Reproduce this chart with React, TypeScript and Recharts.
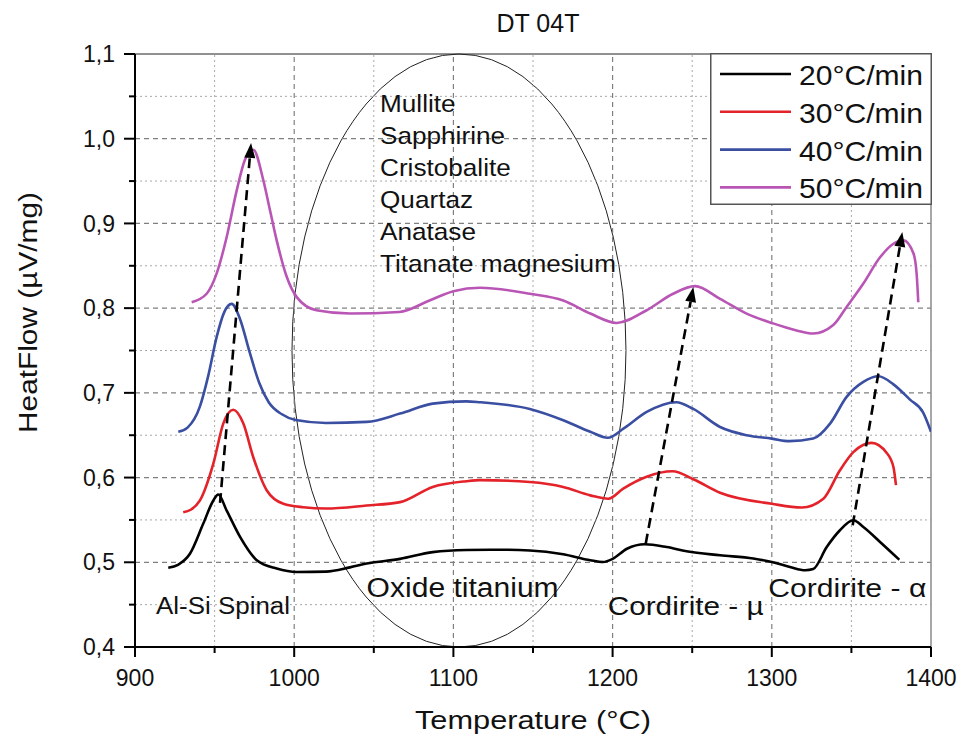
import React from 'react';
import {
  LineChart,
  Line,
  XAxis,
  YAxis,
  ReferenceLine,
  ReferenceArea,
  ReferenceDot,
  Label,
} from 'recharts';

const FONT = '"Liberation Sans", Arial, Helvetica, sans-serif';

// ---- series: temperature (°C) and heat flow (µV/mg) ----
const t20 = [920.9, 927, 934.5, 942.9, 949.2, 952.3, 957.6, 966, 976.5, 989, 1001.6, 1020, 1035, 1045.5, 1066.5, 1087, 1108, 1130, 1148, 1169, 1186, 1194, 1200, 1209, 1220.3, 1234, 1246.5, 1267.5, 1288.4, 1300, 1311.4, 1321, 1326, 1334.5, 1342.8, 1351.2, 1357.5, 1368, 1380.1];
const hf20 = [0.4935, 0.497, 0.51, 0.5457, 0.573, 0.58, 0.561, 0.53, 0.5024, 0.4926, 0.4886, 0.489, 0.494, 0.4985, 0.504, 0.512, 0.5145, 0.5148, 0.514, 0.5095, 0.5024, 0.5003, 0.504, 0.516, 0.5213, 0.518, 0.513, 0.5083, 0.5044, 0.5003, 0.4945, 0.4906, 0.492, 0.518, 0.5378, 0.5496, 0.5417, 0.524, 0.503];

const t30 = [930.3, 935, 940.8, 949.2, 955.5, 961.7, 968, 974.3, 982.7, 993.2, 1005.7, 1020, 1045.5, 1066.5, 1087, 1108, 1116.7, 1148, 1169, 1186, 1197.3, 1206.7, 1221.4, 1237.7, 1250.7, 1267.5, 1300, 1318.8, 1332.4, 1342.8, 1351.2, 1362.7, 1372.2, 1376.4, 1378];
const hf30 = [0.559, 0.562, 0.573, 0.6165, 0.664, 0.68, 0.664, 0.624, 0.585, 0.569, 0.565, 0.5635, 0.567, 0.571, 0.589, 0.5957, 0.597, 0.5948, 0.589, 0.579, 0.575, 0.587, 0.601, 0.6074, 0.598, 0.582, 0.569, 0.5646, 0.575, 0.6086, 0.63, 0.641, 0.629, 0.6125, 0.591];

const t40 = [927.2, 933, 940.8, 946, 951.3, 956, 960.7, 966, 972, 978, 984, 992, 1001, 1020, 1045.5, 1066.5, 1087, 1108, 1116.7, 1148, 1169, 1186, 1197, 1207, 1221.4, 1240, 1250.7, 1267.5, 1284.2, 1300, 1311, 1326, 1336.6, 1347, 1357.5, 1367, 1376.4, 1386.8, 1395, 1400];
const hf40 = [0.654, 0.659, 0.684, 0.72, 0.766, 0.795, 0.805, 0.787, 0.748, 0.712, 0.689, 0.675, 0.668, 0.6645, 0.6657, 0.6755, 0.6873, 0.69, 0.689, 0.681, 0.6677, 0.654, 0.647, 0.658, 0.6775, 0.689, 0.681, 0.6597, 0.65, 0.646, 0.643, 0.646, 0.6637, 0.6952, 0.7129, 0.7196, 0.71, 0.692, 0.677, 0.654];

const t50 = [935.6, 945, 951.3, 957.6, 963.9, 969, 974.3, 980.6, 984.8, 989, 995.3, 1001.6, 1014, 1035, 1066, 1085, 1100, 1116.7, 1148, 1169, 1186, 1202.6, 1221.4, 1238, 1251.8, 1267.5, 1284.2, 1300.8, 1315, 1326, 1338.6, 1347, 1357.5, 1368, 1376.4, 1382.7, 1389, 1391, 1392];
const hf50 = [0.807, 0.817, 0.841, 0.884, 0.939, 0.975, 0.987, 0.951, 0.9156, 0.88, 0.837, 0.813, 0.7975, 0.7936, 0.7955, 0.809, 0.82, 0.824, 0.817, 0.809, 0.7936, 0.7825, 0.7975, 0.817, 0.826, 0.811, 0.7936, 0.782, 0.774, 0.77, 0.78, 0.8014, 0.829, 0.86, 0.876, 0.88, 0.8645, 0.84, 0.807];

const seriesNames = ['20°C/min', '30°C/min', '40°C/min', '50°C/min'];
const seriesColors = ['#000000', '#e3222a', '#3a4ea2', '#b955b5'];

// ---- axes ----
const xDomain = [900, 1400];
const yDomain = [0.4, 1.1];
const xTicks = [900, 950, 1000, 1050, 1100, 1150, 1200, 1250, 1300, 1350, 1400];
const xMinorGrid = [950, 1050, 1150, 1250, 1350];
const xMajorGrid = [1000, 1100, 1200, 1300];
const yTicks = [0.4, 0.45, 0.5, 0.55, 0.6, 0.65, 0.7, 0.75, 0.8, 0.85, 0.9, 0.95, 1.0, 1.05, 1.1];
const yMinorGrid = [0.45, 0.55, 0.65, 0.75, 0.85, 0.95, 1.05];
const yMajorGrid = [0.5, 0.6, 0.7, 0.8, 0.9, 1.0];

// ---- annotations (data coordinates) ----
const phaseList = ['Mullite', 'Sapphirine', 'Cristobalite', 'Quartaz', 'Anatase', 'Titanate magnesium'];
const phaseListAt = { t: 1053.9, v: 1.0317 };
const notes = [
  { text: 'Al-Si Spinal', t: 913.2, v: 0.4386 },
  { text: 'Oxide titanium', t: 1045.5, v: 0.4587 },
  { text: 'Cordirite - µ', t: 1196.9, v: 0.4374 },
  { text: 'Cordirite - α', t: 1297.8, v: 0.4587 },
];
const noteStyle = [
  { size: 23, len: 134 },
  { size: 27, len: 192 },
  { size: 26, len: 156 },
  { size: 26, len: 158 },
];
const arrowStartT = [953.4, 1220.8, 1350.8];
const arrowStartV = [0.57, 0.522, 0.5437];
const arrowEndT = [972.9, 1250.7, 1382];
const arrowEndV = [0.995, 0.825, 0.89];
const ellipseT = [998.6, 1208.4];
const ellipseV = [0.4, 1.1];

const toPoints = (ts: number[], vs: number[]) => ts.map((t, i) => ({ t, v: vs[i] }));
const seriesData = [toPoints(t20, hf20), toPoints(t30, hf30), toPoints(t40, hf40), toPoints(t50, hf50)];

const TICK = 10;
const X_MARGIN = 13;
const Y_MARGIN = 10;

const XTick = (props: any) => {
  const { x, y, payload } = props;
  const v = payload.value as number;
  const major = Math.round(v) % 100 === 0;
  const axisY = y - TICK - X_MARGIN;
  return (
    <g>
      <path d={`M${x},${axisY}L${x},${axisY + (major ? 10 : 6)}`} stroke="#000" strokeWidth={2} fill="none" />
      {major && (
        <text x={x} y={y} dy="0.71em" textAnchor="middle" fontSize={23} fontFamily={FONT} fill="#111">
          {v}
        </text>
      )}
    </g>
  );
};

const YTick = (props: any) => {
  const { x, y, payload } = props;
  const v = payload.value as number;
  const major = Math.round(v * 100) % 10 === 0;
  const axisX = x + TICK + Y_MARGIN;
  return (
    <g>
      <path d={`M${axisX - (major ? 11 : 6)},${y}L${axisX},${y}`} stroke="#000" strokeWidth={2} fill="none" />
      {major && (
        <text x={x} y={y} dy="0.355em" textAnchor="end" fontSize={23} fontFamily={FONT} fill="#111">
          {v.toFixed(1).replace('.', ',')}
        </text>
      )}
    </g>
  );
};

const makeLineShape = (stroke: string, width: number, dash?: string) => (p: any) => (
  <path
    d={`M${p.x1},${p.y1}L${p.x2},${p.y2}`}
    stroke={stroke}
    strokeWidth={width}
    strokeDasharray={dash}
    fill="none"
  />
);
const minorShape = makeLineShape('#a8a8a8', 1, '2 3');
const majorShape = makeLineShape('#808080', 1.2, '5 4');
const topShape = makeLineShape('#222', 1);
const rightShape = makeLineShape('#8a8a8a', 1.5);

const ArrowShape = (props: any) => {
  const { x1, y1, x2, y2 } = props;
  const dx = x2 - x1;
  const dy = y2 - y1;
  const len = Math.hypot(dx, dy) || 1;
  const ux = dx / len;
  const uy = dy / len;
  const head = 15;
  const half = 5.5;
  const bx = x2 - ux * head;
  const by = y2 - uy * head;
  const nx = -uy;
  const ny = ux;
  return (
    <g>
      <line x1={x1} y1={y1} x2={bx} y2={by} stroke="#000" strokeWidth={2.6} strokeDasharray="10 6" />
      <polygon
        points={`${x2},${y2} ${bx + nx * half},${by + ny * half} ${bx - nx * half},${by - ny * half}`}
        fill="#000"
      />
    </g>
  );
};

const EllipseShape = (props: any) => {
  const { x, y, width, height } = props;
  return (
    <ellipse
      cx={x + width / 2}
      cy={y + height / 2}
      rx={Math.abs(width) / 2}
      ry={Math.abs(height) / 2}
      fill="none"
      stroke="#222"
      strokeWidth={1}
    />
  );
};

const LegendBox = () => (
  <svg
    width={222}
    height={152}
    style={{ position: 'absolute', left: 710, top: 53, display: 'block', zIndex: 2 }}
  >
    <rect x={0.75} y={0.75} width={220.5} height={150.5} fill="#fff" stroke="#555" strokeWidth={1.5} />
    {seriesNames.map((n, i) => {
      const cy = 21 + i * 37.8;
      return (
        <g key={n}>
          <line x1={10} x2={81} y1={cy} y2={cy} stroke={seriesColors[i]} strokeWidth={2.6} />
          <text
            x={89}
            y={cy + 11}
            fontSize={28}
            fontFamily={FONT}
            fill="#111"
            textLength={124}
            lengthAdjust="spacingAndGlyphs"
          >
            {n}
          </text>
        </g>
      );
    })}
  </svg>
);

const hSeg = (v: number) => [
  { x: xDomain[0], y: v },
  { x: xDomain[1], y: v },
];
const vSeg = (t: number) => [
  { x: t, y: yDomain[0] },
  { x: t, y: yDomain[1] },
];

export default function App() {
  return (
    <div
      style={{
        position: 'absolute',
        left: 0,
        top: 0,
        width: 963,
        height: 743,
        background: '#fff',
        fontFamily: FONT,
      }}
    >
      <LineChart width={963} height={743} margin={{ top: 54, right: 32, bottom: 0, left: 0 }}>
        <XAxis
          dataKey="t"
          type="number"
          domain={xDomain}
          ticks={xTicks}
          interval={0}
          allowDataOverflow
          height={96}
          tickLine={false}
          tickSize={TICK}
          tickMargin={X_MARGIN}
          axisLine={{ stroke: '#000', strokeWidth: 2 }}
          tick={<XTick />}
        >
          <Label
            content={(p: any) => {
              const vb = p.viewBox || { x: 135, y: 647, width: 796 };
              return (
                <text
                  x={vb.x + vb.width / 2}
                  y={vb.y + 82}
                  textAnchor="middle"
                  fontSize={25}
                  fontFamily={FONT}
                  fill="#111"
                  textLength={236}
                  lengthAdjust="spacingAndGlyphs"
                >
                  Temperature (°C)
                </text>
              );
            }}
          />
        </XAxis>
        <YAxis
          type="number"
          domain={yDomain}
          ticks={yTicks}
          interval={0}
          allowDataOverflow
          width={135}
          tickLine={false}
          tickSize={TICK}
          tickMargin={Y_MARGIN}
          axisLine={{ stroke: '#000', strokeWidth: 2 }}
          tick={<YTick />}
        >
          <Label
            content={(p: any) => {
              const vb = p.viewBox || { x: 0, y: 54, width: 135, height: 593 };
              const cx = vb.x + 37;
              const cy = vb.y + vb.height / 2 - 38;
              return (
                <text
                  transform={`translate(${cx},${cy}) rotate(-90)`}
                  textAnchor="middle"
                  fontSize={26}
                  fontFamily={FONT}
                  fill="#111"
                  textLength={241}
                  lengthAdjust="spacingAndGlyphs"
                >
                  HeatFlow (µV/mg)
                </text>
              );
            }}
          />
        </YAxis>
        {yMinorGrid.map((v) => (
          <ReferenceLine key={`ym-${v}`} segment={hSeg(v)} ifOverflow="visible" shape={minorShape} />
        ))}
        {xMinorGrid.map((t) => (
          <ReferenceLine key={`xm-${t}`} segment={vSeg(t)} ifOverflow="visible" shape={minorShape} />
        ))}
        {yMajorGrid.map((v) => (
          <ReferenceLine key={`yM-${v}`} segment={hSeg(v)} ifOverflow="visible" shape={majorShape} />
        ))}
        {xMajorGrid.map((t) => (
          <ReferenceLine key={`xM-${t}`} segment={vSeg(t)} ifOverflow="visible" shape={majorShape} />
        ))}
        <ReferenceLine segment={hSeg(yDomain[1])} ifOverflow="visible" shape={topShape} />
        <ReferenceLine segment={vSeg(xDomain[1])} ifOverflow="visible" shape={rightShape} />
        <ReferenceArea
          x1={ellipseT[0]}
          x2={ellipseT[1]}
          y1={ellipseV[0]}
          y2={ellipseV[1]}
          ifOverflow="visible"
          fill="none"
          shape={<EllipseShape />}
        />
        {seriesData.map((d, i) => (
          <Line
            key={seriesNames[i]}
            data={d}
            dataKey="v"
            name={seriesNames[i]}
            type="monotone"
            stroke={seriesColors[i]}
            strokeWidth={2.6}
            dot={false}
            activeDot={false}
            isAnimationActive={false}
          />
        ))}
        {arrowStartT.map((t, i) => (
          <ReferenceLine
            key={`arrow-${i}`}
            segment={[
              { x: t, y: arrowStartV[i] },
              { x: arrowEndT[i], y: arrowEndV[i] },
            ]}
            ifOverflow="visible"
            shape={(p: any) => <ArrowShape {...p} />}
          />
        ))}
        <ReferenceDot
          x={phaseListAt.t}
          y={phaseListAt.v}
          r={0}
          ifOverflow="visible"
          shape={(p: any) => (
            <text
              x={p.cx}
              y={p.cy}
              fontSize={24}
              fontFamily={FONT}
              fill="#111"
              transform={`translate(${p.cx},0) scale(1.09,1) translate(${-p.cx},0)`}
            >
              {phaseList.map((s, i) => (
                <tspan key={s} x={p.cx} dy={i === 0 ? 0 : 32.1}>
                  {s}
                </tspan>
              ))}
            </text>
          )}
        />
        {notes.map((n, i) => (
          <ReferenceDot
            key={n.text}
            x={n.t}
            y={n.v}
            r={0}
            ifOverflow="visible"
            shape={(p: any) => (
              <text
                x={p.cx}
                y={p.cy}
                fontSize={noteStyle[i].size}
                fontFamily={FONT}
                fill="#111"
                textLength={noteStyle[i].len}
                lengthAdjust="spacingAndGlyphs"
              >
                {n.text}
              </text>
            )}
          />
        ))}
      </LineChart>
      <div
        style={{
          position: 'absolute',
          left: 438,
          top: 11,
          width: 200,
          textAlign: 'center',
          fontSize: 25,
          lineHeight: '25px',
          color: '#111',
          fontFamily: FONT,
          zIndex: 2,
        }}
      >
        DT 04T
      </div>
      <LegendBox />
    </div>
  );
}
